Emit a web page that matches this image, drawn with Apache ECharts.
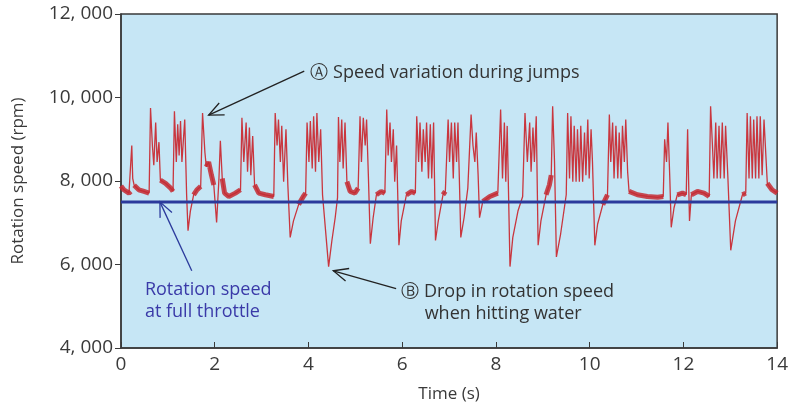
<!DOCTYPE html>
<html>
<head>
<meta charset="utf-8">
<script src="https://cdn.jsdelivr.net/npm/echarts@6/dist/echarts.min.js"></script>
<style>
  html, body { margin: 0; padding: 0; background: #fff; }
  #chart { width: 791px; height: 409px; }
</style>
</head>
<body>
<div id="chart"></div>
<script>
// time (s), rotation speed (rpm)
const speedTrace = [
  [0.00,7880],[0.06,7790],[0.17,7710],[0.21,7750],[0.23,8850],[0.25,8060],[0.28,7900],[0.38,7790],[0.49,7750],[0.60,7710],
  [0.63,9750],[0.67,8850],[0.70,8380],[0.74,9400],[0.77,8455],[0.81,8930],[0.84,8020],[0.95,7945],[1.06,7830],[1.11,7750],
  [1.14,9670],[1.18,8455],[1.21,9360],[1.24,8610],[1.27,9435],[1.30,8455],[1.36,9475],[1.40,7670],[1.43,6810],[1.48,7280],[1.55,7670],[1.62,7790],[1.70,7870],
  [1.74,9630],[1.79,8690],[1.82,8340],[1.87,8455],[1.93,8140],[1.98,7905],[2.04,7005],[2.09,8060],[2.12,8965],[2.16,8060],[2.21,7710],[2.30,7630],[2.44,7710],[2.55,7790],
  [2.58,9515],[2.62,8455],[2.67,9400],[2.70,8220],[2.74,9280],[2.77,8140],[2.81,9080],[2.85,7905],[2.94,7710],[3.08,7670],[3.26,7630],
  [3.29,9630],[3.33,8850],[3.36,9475],[3.40,8455],[3.43,9320],[3.47,7985],[3.52,9240],[3.56,7905],[3.61,6650],[3.68,7045],[3.79,7435],[3.89,7630],[3.94,7710],
  [3.97,9400],[4.01,8455],[4.04,9435],[4.08,8300],[4.11,9550],[4.15,8220],[4.18,9630],[4.22,8455],[4.26,9240],[4.30,7670],[4.43,5950],[4.50,6575],[4.57,7120],[4.62,7600],
  [4.64,9530],[4.67,8455],[4.71,9475],[4.74,8300],[4.78,9400],[4.82,7985],[4.89,7750],[4.99,7710],[5.06,7830],
  [5.10,9550],[5.13,8455],[5.17,9515],[5.21,8850],[5.24,9475],[5.28,8060],[5.32,6500],[5.38,7120],[5.45,7670],[5.55,7750],[5.63,7710],
  [5.67,9710],[5.70,8610],[5.74,9400],[5.77,8455],[5.81,9240],[5.84,7985],[5.88,8850],[5.93,6460],[5.98,7045],[6.09,7670],[6.20,7750],[6.28,7710],
  [6.31,9550],[6.35,8455],[6.38,9400],[6.42,8220],[6.45,9240],[6.49,8455],[6.52,9400],[6.56,8060],[6.60,9360],[6.63,8060],[6.67,9400],[6.71,6575],[6.77,7045],[6.87,7670],[6.92,7750],
  [6.98,9475],[7.01,8455],[7.05,9400],[7.09,8060],[7.12,9400],[7.16,8455],[7.19,9400],[7.25,6650],[7.32,7120],[7.40,7830],
  [7.47,9590],[7.51,8850],[7.55,8455],[7.58,9160],[7.62,8140],[7.65,7120],[7.72,7510],[7.87,7630],[8.04,7710],
  [8.10,9710],[8.14,8060],[8.18,9400],[8.21,7985],[8.24,9320],[8.30,5950],[8.36,6650],[8.47,7280],[8.57,7630],
  [8.62,9630],[8.67,8455],[8.72,9400],[8.75,8220],[8.79,9280],[8.82,8455],[8.86,9550],[8.90,6460],[8.96,7045],[9.07,7670],[9.14,7905],[9.18,8140],
  [9.21,9790],[9.25,8455],[9.29,6180],[9.38,6730],[9.50,7670],
  [9.53,9630],[9.57,8060],[9.60,9550],[9.64,7985],[9.67,9320],[9.71,7985],[9.74,9240],[9.78,7985],[9.81,9320],[9.85,7985],[9.89,9160],[9.92,8140],[9.96,9475],[9.99,8060],[10.03,9240],[10.06,8455],[10.11,6460],[10.17,6970],[10.28,7435],[10.38,7670],
  [10.42,9590],[10.45,8455],[10.49,9400],[10.52,8060],[10.56,9320],[10.60,8060],[10.63,9160],[10.67,8060],[10.70,9320],[10.74,8455],[10.77,9475],[10.81,8220],[10.84,7750],[11.02,7670],[11.23,7630],[11.45,7610],[11.57,7630],
  [11.60,9000],[11.64,8455],[11.67,9400],[11.71,8060],[11.74,6890],[11.80,7360],[11.87,7670],[11.98,7710],[12.06,7670],
  [12.09,9240],[12.11,8060],[12.13,7045],[12.17,7670],[12.30,7750],[12.44,7710],[12.55,7630],
  [12.58,9790],[12.62,8850],[12.65,8060],[12.69,9400],[12.72,8060],[12.76,9320],[12.79,8060],[12.83,9400],[12.87,8060],[12.90,9320],[12.95,8060],[13.01,6340],[13.11,7045],[13.26,7670],[13.33,7710],
  [13.36,9630],[13.40,8060],[13.43,9550],[13.47,8060],[13.50,9475],[13.54,8060],[13.57,9550],[13.61,8060],[13.64,9550],[13.68,8140],[13.72,9475],[13.79,7945],[13.89,7790],[14.00,7710]
]

// stretches where the trace sits as a thick noisy band
const bandSpans = [
  [0, 0.22], [0.28, 0.61], [0.84, 1.12], [1.50, 1.71], [1.82, 1.99], [2.16, 2.56],
  [2.85, 3.27], [3.79, 3.95], [4.82, 5.07], [5.40, 5.64], [6.05, 6.29], [6.85, 6.93],
  [7.70, 8.05], [8.50, 8.58], [9.05, 9.18], [10.25, 10.39], [10.84, 11.58],
  [11.82, 12.07], [12.15, 12.56], [13.20, 13.34], [13.79, 14]
]

const fullThrottleRpm = 7500
const timeTicks = [0, 2, 4, 6, 8, 10, 12, 14]
const rpmTicks = [4000, 6000, 8000, 10000, 12000]

const font = '"Open Sans", sans-serif'
const bandData = []
bandSpans.forEach(([a, b]) => {
  speedTrace.forEach(p => { if (p[0] >= a && p[0] <= b) bandData.push(p) })
  bandData.push([b, null])
})

const chart = echarts.init(document.getElementById('chart'))
chart.setOption({
  animation: false,
  grid: {
    left: 121, right: 10, top: 14, bottom: 61,
    show: true, backgroundColor: '#c6e6f5', borderColor: '#3a3a3a', borderWidth: 1.5,
  },
  xAxis: {
    type: 'value',
    min: timeTicks[0], max: timeTicks[timeTicks.length - 1], interval: 2,
    name: 'Time (s)', nameLocation: 'middle', nameGap: 38,
    nameTextStyle: { fontFamily: font, fontSize: 17, color: '#3a3a3a' },
    axisLine: { lineStyle: { color: '#3a3a3a', width: 1.5 } },
    axisTick: { inside: true, length: 6, lineStyle: { color: '#3a3a3a' } },
    axisLabel: { fontFamily: font, fontSize: 19, color: '#3a3a3a', margin: 7 },
    splitLine: { show: false },
  },
  yAxis: {
    type: 'value',
    min: rpmTicks[0], max: rpmTicks[rpmTicks.length - 1], interval: 2000,
    name: 'Rotation speed (rpm)', nameLocation: 'middle', nameGap: 94,
    nameTextStyle: { fontFamily: font, fontSize: 17, color: '#3a3a3a' },
    axisLine: { show: true, lineStyle: { color: '#3a3a3a', width: 1.5 } },
    axisTick: { show: true, inside: false, length: 6, lineStyle: { color: '#3a3a3a' } },
    axisLabel: {
      fontFamily: font, fontSize: 19, color: '#3a3a3a', margin: 8,
      formatter: v => Math.floor(v / 1000) + ', 000',
    },
    splitLine: { show: false },
  },
  series: [
    {
      type: 'line', data: speedTrace, showSymbol: false,
      lineStyle: { color: '#c9363e', width: 1.3 }, z: 2,
    },
    {
      type: 'line', data: bandData, showSymbol: false, connectNulls: false,
      lineStyle: { color: '#c42a32', width: 5, opacity: 0.85, cap: 'butt' }, z: 3,
    },
    {
      type: 'line', data: [[0, fullThrottleRpm], [14, fullThrottleRpm]], showSymbol: false,
      lineStyle: { color: '#2b3a9c', width: 3 }, z: 4,
    },
  ],
})

// annotations placed in data coordinates
const toPx = p => chart.convertToPixel({ gridIndex: 0 }, p)
function arrow(from, to, color) {
  const a = toPx(from), b = toPx(to)
  const ang = Math.atan2(a[1] - b[1], a[0] - b[0])
  const len = 16, spread = 0.42
  const h1 = [b[0] + len * Math.cos(ang + spread), b[1] + len * Math.sin(ang + spread)]
  const h2 = [b[0] + len * Math.cos(ang - spread), b[1] + len * Math.sin(ang - spread)]
  return [
    { type: 'polyline', shape: { points: [a, b] }, style: { stroke: color, lineWidth: 1.3, fill: null }, z: 10 },
    { type: 'polyline', shape: { points: [h1, b, h2] }, style: { stroke: color, lineWidth: 1.3, fill: null }, z: 10 },
  ]
}
function label(at, text, color) {
  const p = toPx(at)
  return { type: 'text', x: p[0], y: p[1], z: 10,
    style: { text, font: '18px ' + font, fill: color, verticalAlign: 'middle', lineHeight: 22 } }
}
chart.setOption({
  graphic: [
    ...arrow([3.91, 10630], [1.87, 9580], '#222'),
    ...arrow([5.87, 5420], [4.53, 5850], '#222'),
    ...arrow([1.51, 5850], [0.83, 7500], '#2b3a9c'),
    label([4.04, 10580], 'Ⓐ Speed variation during jumps', '#333'),
    label([5.98, 5090], 'Ⓑ Drop in rotation speed\n     when hitting water', '#333'),
    label([0.51, 5120], 'Rotation speed\nat full throttle', '#3a3aa8'),
  ],
})
</script>
</body>
</html>
